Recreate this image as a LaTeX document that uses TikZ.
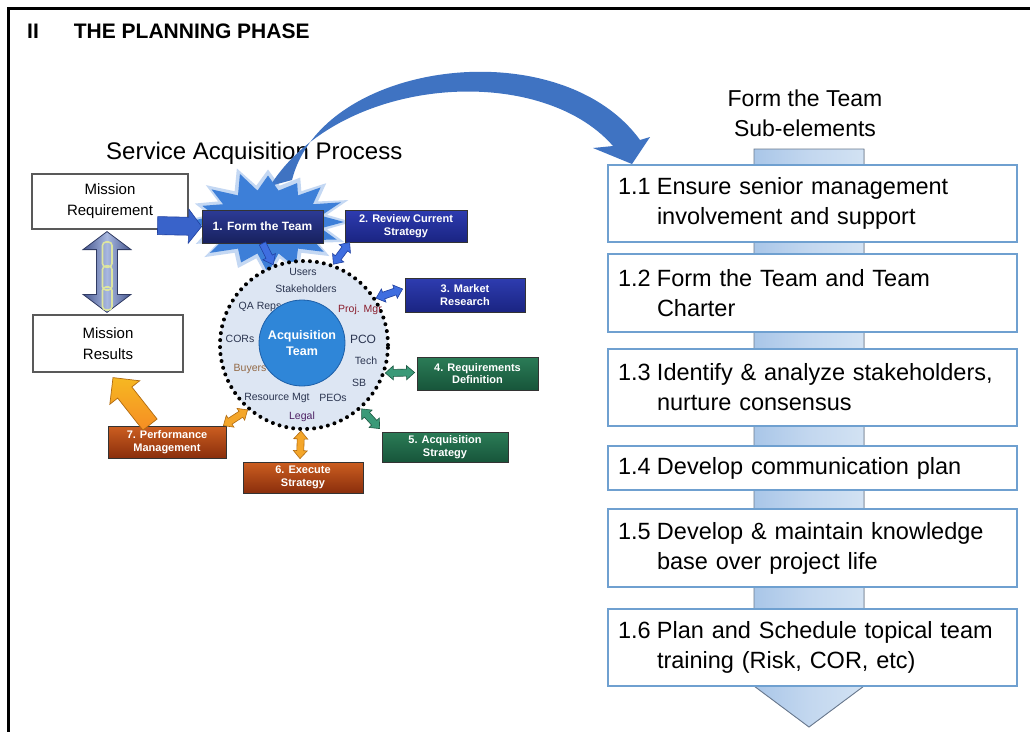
\documentclass[tikz,border=0pt]{standalone}
\usepackage{fontspec}
\setmainfont{Liberation Sans}
\usetikzlibrary{calc}
\definecolor{starblue}{HTML}{3D7FD8}
\definecolor{bigblue}{HTML}{3F73C2}
\definecolor{navytop}{HTML}{2C3B96}
\definecolor{navybot}{HTML}{18215E}
\definecolor{royaltop}{HTML}{2E3CB0}
\definecolor{royalbot}{HTML}{1A2482}
\definecolor{greentop}{HTML}{2B7C57}
\definecolor{greenbot}{HTML}{17553A}
\definecolor{rusttop}{HTML}{CC5E20}
\definecolor{rustbot}{HTML}{8A2E0C}
\definecolor{arrblue}{HTML}{3F6EE0}
\definecolor{arrblueline}{HTML}{2040A0}
\definecolor{arrgreen}{HTML}{3A9A78}
\definecolor{arrgreenline}{HTML}{1E5A44}
\definecolor{arrorange}{HTML}{F4A62A}
\definecolor{arrorangeline}{HTML}{B06A10}
\definecolor{circfill}{HTML}{DDE6F3}
\definecolor{acqfill}{HTML}{2F86D8}
\definecolor{acqline}{HTML}{1D5FA8}
\definecolor{subline}{HTML}{6FA0D0}
\definecolor{barline}{HTML}{6A7A90}
\definecolor{barleft}{HTML}{A9C6E8}
\definecolor{barright}{HTML}{D2E2F3}
\definecolor{labcol}{HTML}{2B3550}
\definecolor{chaincol}{HTML}{DDE5A0}
\definecolor{dblmid}{HTML}{A8B8E0}
\definecolor{dblside}{HTML}{46568F}

\newcommand{\dblarrow}[6][]{%
  \coordinate (da) at (#2);
  \coordinate (db) at (#3);
  \coordinate (da1) at ($(da)!#6!(db)$);
  \coordinate (db1) at ($(db)!#6!(da)$);
  \path[#1] (da) -- ($(da1)!#5!90:(db)$) -- ($(da1)!#4!90:(db)$)
    -- ($(db1)!#4!-90:(da)$) -- ($(db1)!#5!-90:(da)$) -- (db)
    -- ($(db1)!#5!90:(da)$) -- ($(db1)!#4!90:(da)$)
    -- ($(da1)!#4!-90:(db)$) -- ($(da1)!#5!-90:(db)$) -- cycle;
}
\newcommand{\sglarrow}[6][]{%
  \coordinate (sa) at (#2);
  \coordinate (sb) at (#3);
  \coordinate (sb1) at ($(sb)!#6!(sa)$);
  \path[#1] ($(sa)!#4!90:(sb)$) -- ($(sb1)!#4!-90:(sa)$) -- ($(sb1)!#5!-90:(sa)$)
    -- (sb) -- ($(sb1)!#5!90:(sa)$) -- ($(sb1)!#4!90:(sa)$) -- ($(sa)!#4!-90:(sb)$) -- cycle;
}

\begin{document}
\begin{tikzpicture}[x=1pt,y=-1pt,
  cbox/.style={draw=#1, line width=0.8pt, text=white, align=center, inner sep=0pt,
     font=\bfseries\fontsize{11}{12.5}\selectfont},
  navybox/.style={cbox=black!80, top color=navytop, bottom color=navybot},
  royalbox/.style={cbox=black!80, top color=royaltop, bottom color=royalbot},
  greenbox/.style={cbox=black!80, top color=greentop, bottom color=greenbot},
  rustbox/.style={cbox=black!80, top color=rusttop, bottom color=rustbot},
  mbox/.style={draw=black!65, line width=1.2pt, fill=white, align=center, inner sep=0pt,
     font=\fontsize{15}{21}\selectfont},
  subbox/.style={draw=subline, line width=1.3pt, fill=white, text width=389pt, inner xsep=10pt,
     inner ysep=0pt, align=left, font=\fontsize{23.5}{30}\selectfont},
  lab/.style={text=labcol, inner sep=0pt, font=\fontsize{10.5}{11}\selectfont},
  bluearr/.style={fill=arrblue, draw=arrblueline, line width=0.6pt},
  greenarr/.style={fill=arrgreen, draw=arrgreenline, line width=0.6pt},
  orangearr/.style={fill=arrorange, draw=arrorangeline, line width=0.6pt},
]
\useasboundingbox (0,0) rectangle (1030,731);
\fill[white] (0,0) rectangle (1030,731);
\draw[line width=2.5pt] (1032,8.5) -- (8.5,8.5) -- (8.5,733);

% titles
\node[anchor=base west, inner sep=0pt, font=\bfseries\fontsize{21}{21}\selectfont] (ttl) at (27,38)
  {II\hspace{35pt}THE PLANNING PHASE};
\node[anchor=base west, inner sep=0pt, font=\fontsize{24}{24}\selectfont] (sap) at (106,159)
  {Service Acquisition Process};

% right side: sub-elements
\node[align=center, inner sep=0pt, font=\fontsize{23}{30}\selectfont, anchor=base] (fth) at (805,136)
  {Form the Team\\Sub-elements};
\filldraw[draw=barline, line width=0.9pt, left color=barleft, right color=barright, middle color=barleft!70!white]
  (754,149) -- (864,149) -- (864,686) -- (809,727) -- (754,686) -- cycle;
\node[subbox, minimum height=77pt] (s11) at (812.5,203.5)
  {\makebox[39pt][l]{1.1}Ensure senior management\\\hspace*{39pt}involvement and support};
\node[subbox, minimum height=78pt] (s12) at (812.5,293)
  {\makebox[39pt][l]{1.2}Form the Team and Team\\\hspace*{39pt}Charter};
\node[subbox, minimum height=77pt] (s13) at (812.5,387.5)
  {\makebox[39pt][l]{1.3}Identify \& analyze stakeholders,\\\hspace*{39pt}nurture consensus};
\node[subbox, minimum height=44pt] (s14) at (812.5,468)
  {\makebox[39pt][l]{1.4}Develop communication plan};
\node[subbox, minimum height=78pt] (s15) at (812.5,548)
  {\makebox[39pt][l]{1.5}Develop \& maintain knowledge\\\hspace*{39pt}base over project life};
\node[subbox, minimum height=77pt] (s16) at (812.5,647.5)
  {\makebox[39pt][l]{1.6}Plan and Schedule topical team\\\hspace*{39pt}training (Risk, COR, etc)};

% big curved arrow
\fill[bigblue] (292,180) .. controls (322,60) and (560,30) .. (640,140)
  -- (650,137) -- (632,164) -- (593,148) -- (613,146)
  .. controls (540,62) and (340,75) .. (270,186) -- cycle;

% starburst
\begin{scope}[shift={(268,222)}]
\fill[starblue, opacity=0.3] (0:84 and 53)
  \foreach \k [evaluate=\k as \rx using {mod(\k,2)==0 ? 84+6*sin(\k*97) : 60},
               evaluate=\k as \ry using {mod(\k,2)==0 ? 53+5*cos(\k*131) : 37}] in {1,...,31}
  { -- ({\k*11.25}:{\rx} and {\ry}) } -- cycle;
\fill[starblue] (0:76 and 47)
  \foreach \k [evaluate=\k as \rx using {mod(\k,2)==0 ? 76+6*sin(\k*97) : 54},
               evaluate=\k as \ry using {mod(\k,2)==0 ? 47+5*cos(\k*131) : 32}] in {1,...,31}
  { -- ({\k*11.25}:{\rx} and {\ry}) } -- cycle;
\end{scope}

% mission boxes
\node[mbox, minimum width=156pt, minimum height=55pt] (mreq) at (110,201.5) {Mission\\Requirement};
\node[mbox, minimum width=150pt, minimum height=57pt] (mres) at (108,343.5) {Mission\\Results};

% process boxes
\node[navybox, minimum width=121pt, minimum height=33pt, font=\bfseries\fontsize{12}{13}\selectfont] (box1) at (262.5,226.5) {1. Form the Team};
\node[royalbox, minimum width=122pt, minimum height=32pt] (box2) at (406,226) {2. Review Current\\Strategy};
\node[royalbox, minimum width=120pt, minimum height=34pt] (box3) at (465,295) {3. Market\\Research};
\node[greenbox, minimum width=121pt, minimum height=33pt] (box4) at (477.5,373.5) {4. Requirements\\Definition};
\node[greenbox, minimum width=126pt, minimum height=30pt] (box5) at (445,447) {5. Acquisition\\Strategy};
\node[rustbox, minimum width=120pt, minimum height=31pt] (box6) at (303,477.5) {6. Execute\\Strategy};
\node[rustbox, minimum width=118pt, minimum height=32pt] (box7) at (167,442) {7. Performance\\Management};

% team circle
\node[circle, minimum size=168pt, fill=circfill, draw=black, line width=4pt,
      dash pattern=on 0pt off 7pt, line cap=round, inner sep=0pt] (circ) at (304,345) {};
\node[lab] (l1) at (303,272) {Users};
\node[lab] (l2) at (306,289) {Stakeholders};
\node[lab] (l3) at (260,307) {QA Reps};
\node[lab, text=red!45!labcol] (l4) at (360,310) {Proj. Mgr};
\node[lab] (l5) at (240,339) {CORs};
\node[lab, font=\fontsize{12}{12}\selectfont] (l6) at (363,339) {PCO};
\node[lab] (l7) at (366,361) {Tech};
\node[lab, text=brown!70!labcol] (l8) at (250,369) {Buyers};
\node[lab] (l9) at (359,383) {SB};
\node[lab] (l10) at (277,398) {Resource Mgt};
\node[lab] (l11) at (333,398) {PEOs};
\node[lab, text=violet!40!labcol] (l12) at (302,417) {Legal};
\node[circle, minimum size=86pt, fill=acqfill, draw=acqline, line width=0.8pt, inner sep=0pt,
      text=white, align=center, font=\bfseries\fontsize{12.5}{16}\selectfont] (acq) at (302,343) {Acquisition\\Team};

% connectors around circle
\sglarrow[bluearr]{box1.south}{circ.111}{3.5pt}{7pt}{9pt}
\dblarrow[bluearr]{circ.70}{$(box2.south west)+(5,0)$}{3.5pt}{7pt}{8pt}
\dblarrow[bluearr]{circ.33}{$(box3.west)+(-2,-6)$}{3.5pt}{7pt}{8pt}
\dblarrow[greenarr]{circ.-19}{$(box4.west)+(-2,-1)$}{3.5pt}{7pt}{8pt}
\dblarrow[greenarr]{circ.-48}{$(box5.north west)+(-2,-3)$}{3.5pt}{7pt}{8pt}
\dblarrow[orangearr]{circ.-92}{$(box6.north)+(-3,-3)$}{3.5pt}{7pt}{8pt}
\dblarrow[orangearr]{circ.-131}{$(box7.north east)+(-3,0)$}{3.5pt}{7pt}{8pt}

% mission arrows
\sglarrow[fill=arrblue!90!black, draw=arrblueline, line width=0.6pt]{$(mreq.south east)+(-31,-4)$}{box1.west}{9pt}{17pt}{13pt}
\sglarrow[top color=arrorange!80!yellow, bottom color=arrorange!85!red, draw=arrorangeline, line width=0.7pt]
  {$(box7.north)+(-17,-1)$}{$(mres.south)+(5,5)$}{9pt}{19pt}{19pt}
\dblarrow[left color=dblside, right color=dblside, middle color=dblmid, draw=dblside!70!black, line width=0.8pt]
  {$(mreq.south)+(-3,2)$}{$(mres.north)+(-1,-2)$}{10.5pt}{24pt}{18pt}
\foreach \ya/\yb in {242/267, 266/290, 287/310}
  \draw[chaincol, line width=1.6pt, rounded corners=3.5pt] (102.5,\ya) rectangle (112,\yb);

\end{tikzpicture}
\end{document}
